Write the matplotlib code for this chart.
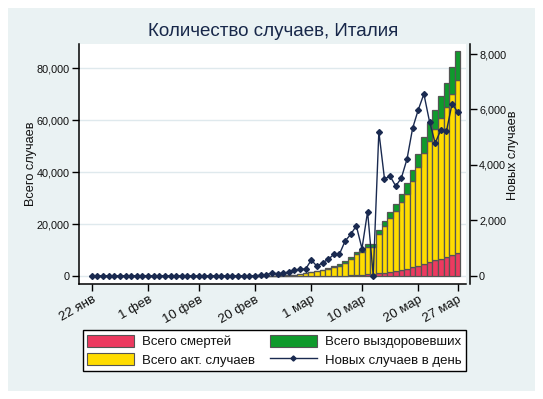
import matplotlib
matplotlib.use("Agg")
import matplotlib.pyplot as plt
import matplotlib.dates as mdates
from matplotlib.patches import Rectangle, Patch
from matplotlib.lines import Line2D
import pandas as pd
import numpy as np

plt.rcParams['font.family'] = ['Liberation Sans', 'DejaVu Sans']

# ---- data (22 Jan 2020 .. 27 Mar 2020) ----
start_date = "2020-01-22"
n_days = 66

deaths = [0]*30 + [1, 2, 3, 7, 10, 12, 17, 21, 29,
                   34, 52, 79, 107, 148, 197, 233, 366, 463, 631, 827, 827,
                   1266, 1441, 1809, 2158, 2503, 2978, 3405, 4032, 4825, 5476,
                   6077, 6820, 7503, 8215, 9134]

active = [0]*9 + [2]*7 + [3]*14 + [19, 59, 150, 221, 311, 438, 593, 821, 1053,
                                   1577, 1835, 2263, 2706, 3296, 3916, 5061, 6387, 7985,
                                   8794, 10590, 10590, 14955, 17750, 20603, 23073, 26062,
                                   28710, 33190, 37860, 42681, 46638, 50418, 54030, 57521,
                                   62013, 66414]

recovered = [0]*31 + [1, 2, 1, 1, 3, 45, 46, 46,
                      83, 149, 160, 276, 414, 523, 589, 622, 724, 724, 1045, 1045,
                      1439, 1966, 2335, 2749, 2941, 4025, 4440, 5129, 6072, 7024,
                      7432, 8326, 9362, 10361, 10950]

new_cases = [0]*9 + [2] + [0]*6 + [1] + [0]*13 + [17, 42, 93, 74, 93, 131, 202, 233, 240,
                                                  566, 342, 466, 587, 769, 778, 1247, 1492, 1797,
                                                  977, 2313, 0, 5198, 3497, 3590, 3233, 3526, 4207,
                                                  5322, 5986, 6557, 5560, 4789, 5249, 5210, 6203, 5909]

tick_dates = ["2020-01-22", "2020-02-01", "2020-02-10", "2020-02-20",
              "2020-03-01", "2020-03-10", "2020-03-20", "2020-03-27"]
tick_labels = ["22 янв", "1 фев", "10 фев", "20 фев", "1 мар", "10 мар", "20 мар", "27 мар"]

left_ticks = [0, 20000, 40000, 60000, 80000]
left_tick_labels = ["0", "20,000", "40,000", "60,000", "80,000"]
right_ticks = [0, 2000, 4000, 6000, 8000]
right_tick_labels = ["0", "2,000", "4,000", "6,000", "8,000"]

title = "Количество случаев, Италия"
ylabel_left = "Всего случаев"
ylabel_right = "Новых случаев"
legend_labels = ["Всего смертей", "Всего акт. случаев", "Всего выздоровевших", "Новых случаев в день"]

# ---- styles ----
W, H = 543, 399
c_bg = "#eaf2f3"
c_red = "#ec3a60"
c_yel = "#ffdc00"
c_grn = "#0f9a2c"
c_navy = "#1a2a50"
c_edge = "#555555"
c_txt = "#111111"

dates = pd.date_range(start_date, periods=n_days)
deaths = np.array(deaths)
active = np.array(active)
recovered = np.array(recovered)

fig = plt.figure(figsize=(W/100, H/100), dpi=100, facecolor="white")
fig.patches.append(Rectangle((8/W, 8/H), (W-16)/W, (H-16)/H, transform=fig.transFigure,
                             facecolor=c_bg, edgecolor="none", zorder=-10))

ax = fig.add_axes([79/W, (H-284)/H, 387/W, 240/H])
ax.set_facecolor("white")
ax2 = ax.twinx()

bw = 1.0
ax.bar(dates, deaths, width=bw, color=c_red, edgecolor=c_edge, linewidth=0.9)
ax.bar(dates, active, width=bw, bottom=deaths, color=c_yel, edgecolor=c_edge, linewidth=0.9)
ax.bar(dates, recovered, width=bw, bottom=deaths+active, color=c_grn, edgecolor=c_edge, linewidth=0.9)

ax2.plot(dates, new_cases, color=c_navy, lw=1.0, marker="D", markersize=3.0,
         markerfacecolor=c_navy, markeredgecolor=c_navy)

d0 = pd.Timestamp(start_date)
ax.set_xlim(d0 - pd.Timedelta(days=2.26), d0 + pd.Timedelta(days=66.48))
ax.set_ylim(-2962, 89346)
ax2.set_ylim(-300, 8361)

ax.set_yticks(left_ticks)
ax.set_yticklabels(left_tick_labels)
ax2.set_yticks(right_ticks)
ax2.set_yticklabels(right_tick_labels)

ax.set_xticks([pd.Timestamp(d) for d in tick_dates])
ax.set_xticklabels(tick_labels, rotation=30, ha="right", rotation_mode="anchor", va="top")

ax.tick_params(axis="y", labelsize=7.8, length=5, width=1, colors="black", labelcolor=c_txt, pad=1.5)
ax2.tick_params(axis="y", labelsize=7.8, length=5, width=1, colors="black", labelcolor=c_txt, pad=1.5)
ax.tick_params(axis="x", labelsize=9.5, length=5, width=1, colors="black", labelcolor=c_txt, pad=2)

ax.yaxis.grid(True, color="#dfe9ed", lw=1.0)
ax.set_axisbelow(True)

for s in ["top", "right"]:
    ax.spines[s].set_visible(False)
for s in ["top", "left", "bottom"]:
    ax2.spines[s].set_visible(False)
ax2.spines["right"].set_position(("outward", 2.9))
for s in [ax.spines["left"], ax.spines["bottom"], ax2.spines["right"]]:
    s.set_linewidth(1.1)
    s.set_color("black")

fig.text(273.5/W, 1-31.5/H, title, ha="center", va="center", fontsize=13.5, color="#18284a")
fig.text(30.7/W, 1-163.7/H, ylabel_left, rotation=90, ha="center", va="center", fontsize=9.2, color=c_txt)
fig.text(513/W, 1-155/H, ylabel_right, rotation=90, ha="center", va="center", fontsize=9.2, color=c_txt)

handles = [Patch(facecolor=c_red, edgecolor=c_edge, linewidth=0.8),
           Patch(facecolor=c_yel, edgecolor=c_edge, linewidth=0.8),
           Patch(facecolor=c_grn, edgecolor=c_edge, linewidth=0.8),
           Line2D([], [], color=c_navy, lw=1.0, marker="D", markersize=2.6)]
leg = fig.legend(handles, legend_labels, ncol=2, loc="center",
                 bbox_to_anchor=(274.3/W, 1-350.8/H), fontsize=9.5,
                 frameon=True, fancybox=False, edgecolor="black", framealpha=1,
                 handlelength=3.5, handleheight=1.0, handletextpad=0.6,
                 columnspacing=1.2, borderpad=0.35, labelspacing=0.35)
leg.get_frame().set_linewidth(1.0)
for t in leg.get_texts():
    t.set_color(c_txt)

fig.savefig("out.png", dpi=100, facecolor="white")
